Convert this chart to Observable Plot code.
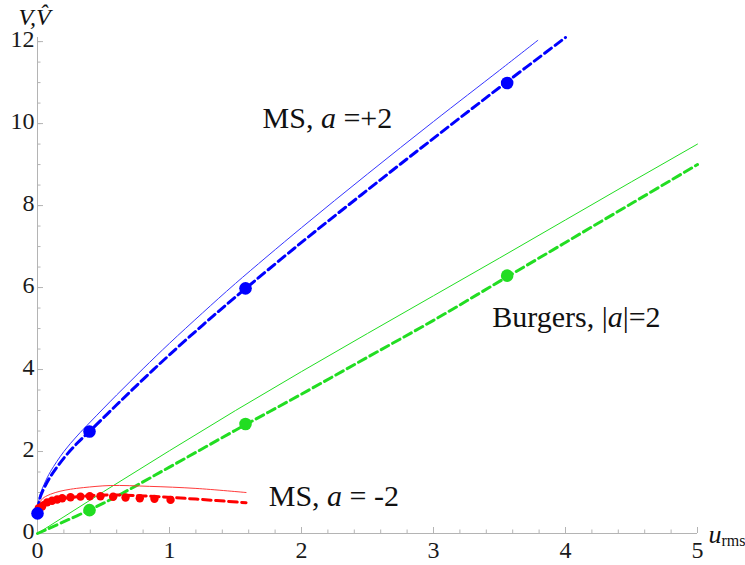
<!DOCTYPE html>
<html><head><meta charset="utf-8">
<script src="https://cdn.jsdelivr.net/npm/d3@7"></script>
<script src="https://cdn.jsdelivr.net/npm/@observablehq/plot@0.6"></script>
<style>body{margin:0;background:#fff}</style>
</head><body><div id="chart"></div>
<script>
// ---- data ----
const blueSolidU = [0, 0.02, 0.05, 0.1, 0.2, 0.3, 0.4, 0.6, 0.8, 1.0, 1.25, 1.5, 2.0, 2.5, 3.0, 3.5, 3.79];
const blueSolidV = [0.6, 0.95, 1.2, 1.52, 2.0, 2.38, 2.72, 3.38, 4.02, 4.64, 5.38, 6.1, 7.46, 8.77, 10.05, 11.3, 12.03];
const blueDashU = [0, 0.02, 0.05, 0.1, 0.2, 0.3, 0.4, 0.6, 0.8, 1.0, 1.25, 1.5, 2.0, 2.5, 3.0, 3.5, 4.0];
const blueDashV = [0.55, 0.88, 1.11, 1.4, 1.84, 2.2, 2.51, 3.14, 3.76, 4.36, 5.08, 5.77, 7.1, 8.38, 9.64, 10.88, 12.1];
const bluePtsU = [0, 0.394, 1.576, 3.558];
const bluePtsV = [0.49, 2.49, 5.98, 10.99];

const greenSolidU = [0, 0.5, 1, 1.5, 2, 2.5, 3, 3.5, 4, 4.5, 5];
const greenSolidV = [0, 1.02, 2.02, 3.0, 3.95, 4.88, 5.8, 6.72, 7.65, 8.58, 9.5];
const greenDashU = [0, 0.5, 1, 1.5, 2, 2.5, 3, 3.5, 4, 4.5, 5];
const greenDashV = [0, 0.74, 1.62, 2.52, 3.4, 4.3, 5.2, 6.15, 7.1, 8.05, 9.0];
const greenPtsU = [0.394, 1.576, 3.558];
const greenPtsV = [0.57, 2.67, 6.29];

const redSolidU = [0, 0.01, 0.03, 0.05, 0.1, 0.17, 0.25, 0.35, 0.55, 0.85, 1.2, 1.58];
const redSolidV = [0.62, 0.72, 0.82, 0.88, 0.96, 1.03, 1.08, 1.12, 1.17, 1.15, 1.1, 1.0];
const redDashU = [0, 0.01, 0.03, 0.05, 0.1, 0.17, 0.25, 0.35, 0.55, 0.85, 1.2, 1.58];
const redDashV = [0.6, 0.66, 0.73, 0.77, 0.82, 0.85, 0.88, 0.91, 0.94, 0.91, 0.84, 0.75];
const redPtsU = [0.01, 0.035, 0.073, 0.11, 0.149, 0.187, 0.25, 0.326, 0.396, 0.477, 0.573, 0.667, 0.775, 0.886, 1.008];
const redPtsV = [0.62, 0.66, 0.76, 0.80, 0.83, 0.86, 0.885, 0.90, 0.91, 0.91, 0.895, 0.88, 0.86, 0.845, 0.82];

const xMajorTicks = [0, 1, 2, 3, 4, 5];
const yMajorTicks = [0, 2, 4, 6, 8, 10, 12];
const xMinorTicks = d3.range(0, 5.001, 0.2);
const yMinorTicks = d3.range(0, 12.001, 0.5);

const annText = ["MS, a =+2", "Burgers, |a|=2", "MS, a = -2"];
const annU = [1.705, 3.445, 1.752];
const annV = [9.9, 5.03, 0.683];

const yLabel = "V,V\u0302";
const xLabelMain = "u";
const xLabelSub = "rms";

// ---- build ----
const rows = (u, v) => u.map((x, i) => ({u: x, v: v[i]}));
const ann = annText.map((t, i) => ({t, u: annU[i], v: annV[i]}));
const axisGray = "#b4b4b4";
const dash = "8.5,4.5";
const serif = "Liberation Serif";
const ink = "#1a1a1a";

const chart = Plot.plot({
  width: 745, height: 565,
  marginLeft: 37, marginRight: 48, marginTop: 37, marginBottom: 32,
  x: {domain: [0, 5]},
  y: {domain: [0, 12.1]},
  style: {fontFamily: serif, background: "#fff", color: ink},
  marks: [
    Plot.ruleY([0], {stroke: axisGray}),
    Plot.ruleX([0], {stroke: axisGray}),
    Plot.axisX(xMinorTicks, {tickSize: -3.5, text: null, stroke: axisGray, label: null}),
    Plot.axisX(xMajorTicks, {tickSize: -6, text: null, stroke: axisGray, label: null}),
    Plot.axisY(yMinorTicks, {tickSize: -3.5, text: null, stroke: axisGray, label: null}),
    Plot.axisY(yMajorTicks, {tickSize: -6, text: null, stroke: axisGray, label: null}),
    // tick labels
    Plot.text(xMajorTicks, {x: d => d, text: d => String(d), frameAnchor: "bottom", lineAnchor: "top", dy: 7, fontSize: 24, fontFamily: serif, fill: ink}),
    Plot.text(yMajorTicks, {y: d => d, text: d => String(d), frameAnchor: "left", textAnchor: "end", lineAnchor: "middle", dx: -3, dy: -2, fontSize: 24, fontFamily: serif, fill: ink}),

    Plot.line(rows(greenSolidU, greenSolidV), {x: "u", y: "v", stroke: "#22dd22", strokeWidth: 1}),
    Plot.line(rows(greenDashU, greenDashV), {x: "u", y: "v", stroke: "#22dd22", strokeWidth: 3, strokeDasharray: dash, curve: "catmull-rom"}),
    Plot.line(rows(redSolidU, redSolidV), {x: "u", y: "v", stroke: "#ff3b3b", strokeWidth: 1, curve: "catmull-rom"}),
    Plot.line(rows(redDashU, redDashV), {x: "u", y: "v", stroke: "#ff0000", strokeWidth: 3, strokeDasharray: dash, curve: "catmull-rom"}),
    Plot.line(rows(blueSolidU, blueSolidV), {x: "u", y: "v", stroke: "#3535ff", strokeWidth: 1, curve: "catmull-rom"}),
    Plot.line(rows(blueDashU, blueDashV), {x: "u", y: "v", stroke: "#0000ff", strokeWidth: 3, strokeDasharray: dash, curve: "catmull-rom"}),

    Plot.dot(rows(redPtsU, redPtsV), {x: "u", y: "v", r: 4.2, fill: "#ff0000", stroke: "none"}),
    Plot.dot(rows(greenPtsU, greenPtsV), {x: "u", y: "v", r: 6.3, fill: "#22dd22", stroke: "none"}),
    Plot.dot(rows(bluePtsU, bluePtsV), {x: "u", y: "v", r: 6.3, fill: "#0000ff", stroke: "none"}),

    Plot.text(ann, {x: "u", y: "v", text: "t", textAnchor: "start", lineAnchor: "bottom", fontSize: 30, fontFamily: serif, fill: "#111"}),
    Plot.text([yLabel], {text: d => d, frameAnchor: "top-left", textAnchor: "start", lineAnchor: "bottom", dx: -19, dy: -13, fontSize: 24, fontFamily: serif, fontStyle: "italic", fill: "#111"}),
    Plot.text([xLabelMain + xLabelSub], {text: d => d, frameAnchor: "bottom-right", textAnchor: "start", lineAnchor: "bottom", dx: 11, dy: 9, fontSize: 26, fontFamily: serif, fill: "#111"})
  ]
});

// rich-text styling of labels (italic variable names, subscript)
const NS = "http://www.w3.org/2000/svg";
function setParts(el, parts) {
  while (el.firstChild) el.removeChild(el.firstChild);
  for (const p of parts) {
    const ts = document.createElementNS(NS, "tspan");
    ts.textContent = p.s;
    if (p.italic) ts.setAttribute("font-style", "italic");
    if (p.size) ts.setAttribute("font-size", p.size);
    if (p.dy != null) ts.setAttribute("dy", p.dy);
    el.appendChild(ts);
  }
}
chart.querySelectorAll("text").forEach(el => {
  el.setAttribute("font-family", serif);
  el.style.fontVariant = "normal";
  const s = el.textContent;
  if (annText.includes(s)) {
    setParts(el, s.split(/(\ba\b)/).filter(x => x.length).map(x => ({s: x, italic: x === "a"})));
  } else if (s === xLabelMain + xLabelSub) {
    setParts(el, [{s: xLabelMain, italic: true}, {s: xLabelSub, size: 16, dy: 3}]);
  }
});

document.getElementById("chart").appendChild(chart);
</script></body></html>
